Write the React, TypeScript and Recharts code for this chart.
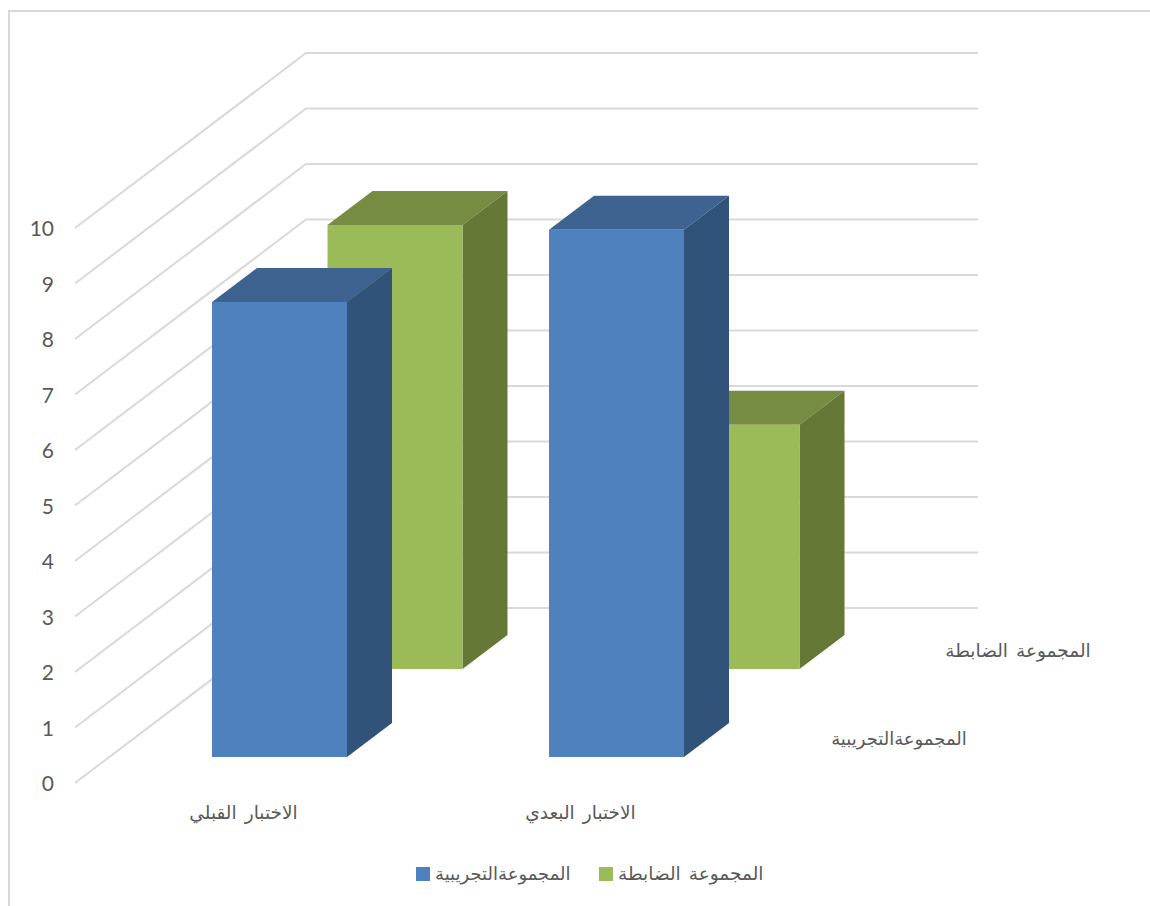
import { BarChart, Bar, XAxis, YAxis, CartesianGrid, Legend } from 'recharts'

// ── Data ─────────────────────────────────────────────────────────────────────
const categories = ['الاختبار القبلي', 'الاختبار البعدي']
const experimentalName = 'المجموعةالتجريبية'
const controlName = 'المجموعة الضابطة'
const experimentalValues = [8.2, 9.5]
const controlValues = [8, 4.4]
const yTicks = [0, 1, 2, 3, 4, 5, 6, 7, 8, 9, 10]

const rows = categories.map((name, i) => ({
  name,
  experimental: experimentalValues[i],
  control: controlValues[i],
}))

// ── Palette ──────────────────────────────────────────────────────────────────
const C = {
  blue: '#4f81bd',
  blueTop: '#3e6390',
  blueSide: '#31537a',
  green: '#9bbb59',
  greenTop: '#778c43',
  greenSide: '#657836',
  grid: '#d9d9d9',
  text: '#595959',
}

const ARABIC_FONT = '"Liberation Sans", "DejaVu Sans", sans-serif'
const BAR_WIDTH = 135
const WORD_GAP = 3
const SPACED_SIZE = 18.5

// how far a box's side and top recede
const BAR_DEPTH = { x: 45, y: 34 }
// how far the back wall sits behind the front of the floor
const WALL = { x: 231, y: 175 }

// ── Extruded box: front face, top and right side ─────────────────────────────
function box(front: string, top: string, side: string, dx: number, dy: number) {
  return (props: any) => {
    const x = props.x + dx
    const y = props.y + dy
    const w = props.width
    const h = props.height
    const d = BAR_DEPTH
    return (
      <g>
        <polygon points={`${x},${y} ${x + d.x},${y - d.y} ${x + w + d.x},${y - d.y} ${x + w},${y}`} fill={top} />
        <polygon points={`${x + w},${y} ${x + w + d.x},${y - d.y} ${x + w + d.x},${y + h - d.y} ${x + w},${y + h}`} fill={side} />
        <rect x={x} y={y} width={w} height={h} fill={front} />
      </g>
    )
  }
}

// Gridline runs up the side wall, then across the back wall
function wallLine(props: any) {
  const { x1, y1, x2, key } = props
  const wallY = y1 - WALL.y
  return (
    <polyline
      key={key}
      points={`${x1},${y1} ${x1 + WALL.x},${wallY} ${x2 + 229},${wallY}`}
      fill="none"
      stroke={C.grid}
      strokeWidth={2}
    />
  )
}

function CategoryTick({ x, y, payload }: any) {
  return (
    <text x={x} y={y} dy={28} textAnchor="middle" fontSize={SPACED_SIZE} wordSpacing={WORD_GAP} fontFamily={ARABIC_FONT} fill={C.text}>
      {payload.value}
    </text>
  )
}

function ChartLegend() {
  const items = [
    { label: experimentalName, color: C.blue, width: 183, size: 18 },
    { label: controlName, color: C.green, width: 170, size: SPACED_SIZE },
  ]
  return (
    <div style={{ display: 'flex', marginLeft: 416 }}>
      {items.map((item) => (
        <div key={item.label} style={{ display: 'flex', alignItems: 'center', width: item.width }}>
          <span style={{ width: 14, height: 14, background: item.color, marginRight: 5 }} />
          <span style={{ fontSize: item.size, wordSpacing: WORD_GAP, fontFamily: ARABIC_FONT, color: C.text, whiteSpace: 'nowrap' }}>{item.label}</span>
        </div>
      ))}
    </div>
  )
}

export default function App() {
  return (
    <div style={{ position: 'absolute', left: 0, top: 0, width: 1150, height: 906, background: '#fff', overflow: 'hidden' }}>
      {/* chart frame */}
      <div
        style={{
          position: 'absolute', left: 8, top: 10, right: 0, bottom: 0,
          borderLeft: `2px solid ${C.grid}`, borderTop: `2px solid ${C.grid}`,
        }}
      />
      <BarChart
        width={1150}
        height={906}
        data={rows}
        margin={{ top: 228, right: 401, bottom: 71, left: 0 }}
        barSize={BAR_WIDTH}
        barGap={-BAR_WIDTH}
        style={{ position: 'absolute', left: 0, top: 0 }}
      >
        <CartesianGrid vertical={false} horizontal={wallLine} />
        <XAxis dataKey="name" axisLine={false} tickLine={false} height={30} tick={<CategoryTick />} interval={0} />
        <YAxis
          width={75}
          domain={[0, 10]}
          ticks={yTicks}
          interval={0}
          axisLine={false}
          tickLine={false}
          tickMargin={15}
          tick={{ fontSize: 21, fontFamily: 'Lato', fill: C.text, dy: 1 }}
        />
        <Bar dataKey="control" name={controlName} isAnimationActive={false} shape={box(C.green, C.greenTop, C.greenSide, 151.5, -114)} />
        <Bar dataKey="experimental" name={experimentalName} isAnimationActive={false} shape={box(C.blue, C.blueTop, C.blueSide, 36, -26)} />
        <Legend content={<ChartLegend />} wrapperStyle={{ left: 0, top: 863, width: 1150 }} />
        {/* labels of the depth axis */}
        <text x={1018} y={657} textAnchor="middle" fontSize={SPACED_SIZE} wordSpacing={WORD_GAP} fontFamily={ARABIC_FONT} fill={C.text}>{controlName}</text>
        <text x={899} y={745} textAnchor="middle" fontSize={18} fontFamily={ARABIC_FONT} fill={C.text}>{experimentalName}</text>
      </BarChart>
    </div>
  )
}
